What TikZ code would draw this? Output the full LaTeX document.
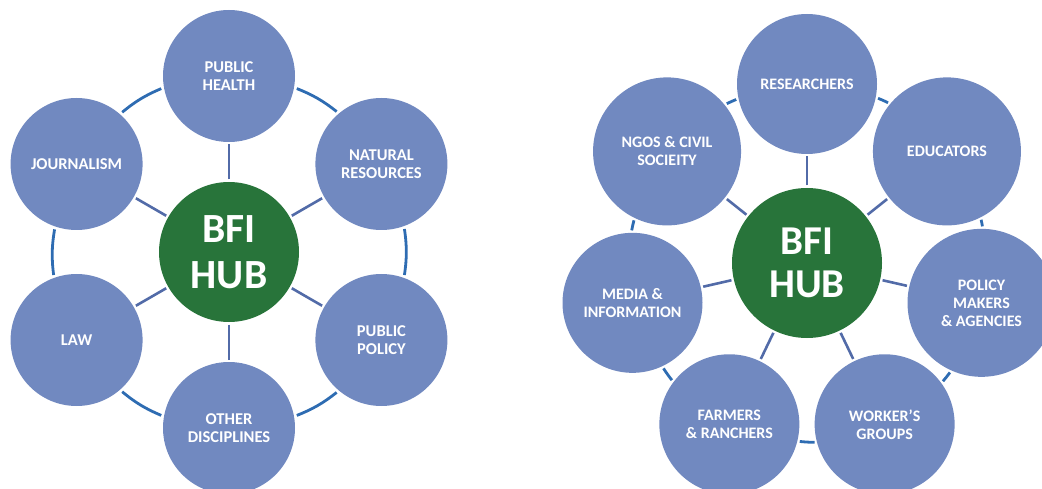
\documentclass[tikz,border=0pt]{standalone}
\usepackage{fontspec}
\setmainfont{Carlito}
\usepackage{tikz}
\usetikzlibrary{calc}

\definecolor{hubgreen}{RGB}{40,116,58}
\definecolor{topicblue}{RGB}{113,137,192}
\definecolor{spokeblue}{RGB}{82,107,168}
\definecolor{ringblue}{RGB}{46,108,178}

\tikzset{
    hub/.style={circle, fill=hubgreen, text=white, inner sep=0pt, outer sep=0pt, align=center,
        font=\bfseries\fontsize{41.5}{45.5}\selectfont},
    topic/.style={circle, fill=topicblue, text=white, inner sep=0pt, outer sep=0pt, align=center,
        font=\bfseries\fontsize{#1}{18}\selectfont},
    topic/.default=16.5,
    spoke/.style={draw=spokeblue, line width=2.6pt, shorten >=2.5pt, shorten <=2.5pt},
    ring/.style={draw=ringblue, line width=2.8pt, shorten >=3pt, shorten <=3pt},
}

\begin{document}
\begin{tikzpicture}[x=1pt, y=1pt]
    \useasboundingbox (0,0) rectangle (1042,488);

    \node [hub, minimum size=140pt] (HubL) at (229,236) {BFI\\HUB};
    \node [topic, minimum size=132pt] (PH) at ($(HubL)+(90:176)$) {PUBLIC\\HEALTH};
    \node [topic, minimum size=132pt] (NR) at ($(HubL)+(30:176)$) {NATURAL\\RESOURCES};
    \node [topic, minimum size=132pt] (PP) at ($(HubL)+(-30:176)$) {PUBLIC\\POLICY};
    \node [topic, minimum size=132pt] (OD) at ($(HubL)+(-90:176)$) {OTHER\\DISCIPLINES};
    \node [topic, minimum size=132pt] (LW) at ($(HubL)+(-150:176)$) {LAW};
    \node [topic, minimum size=132pt] (JO) at ($(HubL)+(150:176)$) {JOURNALISM};

    \foreach \n in {PH, NR, PP, OD, LW, JO} {
        \draw [spoke] (HubL) -- (\n);
    }
    \foreach \a/\b/\ang [evaluate=\ang as \s using \ang-100.8, evaluate=\ang as \e using \ang+40.8]
        in {PH/NR/90, NR/PP/30, PP/OD/-30, OD/LW/-90, LW/JO/-150, JO/PH/150} {
        \draw [ring] (\a.\s) to [bend left=8.4] (\b.\e);
    }

    \node [hub, minimum size=150pt, font=\bfseries\fontsize{41}{43.5}\selectfont] (HubR) at (807,225) {BFI\\HUB};
    \node [topic=16, minimum size=140pt] (RS) at ($(HubR)+(90:179)$) {RESEARCHERS};
    \node [topic=16, minimum size=148pt] (ED) at ($(HubR)+(38.57:179)$) {EDUCATORS};
    \node [topic=16, minimum size=148pt] (PM) at ($(HubR)+(-12.86:179)$) {POLICY\\MAKERS\\\& AGENCIES};
    \node [topic=16, minimum size=140pt] (WG) at ($(HubR)+(-64.29:179)$) {WORKER’S\\GROUPS};
    \node [topic=16, minimum size=140pt] (FR) at ($(HubR)+(-115.71:179)$) {FARMERS\\\& RANCHERS};
    \node [topic=16, minimum size=140pt] (MI) at ($(HubR)+(-167.14:179)$) {MEDIA \&\\INFORMATION};
    \node [topic=16, minimum size=148pt] (NG) at ($(HubR)+(141.43:179)$) {NGOS \& CIVIL\\SOCIEITY};

    \foreach \n in {RS, ED, PM, WG, FR, MI, NG} {
        \draw [spoke] (HubR) -- (\n);
    }
    \foreach \a/\s/\b/\e in {RS/-11.25/ED/140.5, ED/-63.36/PM/89.07, PM/-114.79/WG/36.96,
        WG/-165.54/FR/-14.46, FR/143.04/MI/-65.89, MI/91.61/NG/-116.64, NG/39.5/RS/-168.75} {
        \draw [ring, shorten >=2.5pt, shorten <=2.5pt] (\a.\s) to [bend left=2.5] (\b.\e);
    }
\end{tikzpicture}
\end{document}
